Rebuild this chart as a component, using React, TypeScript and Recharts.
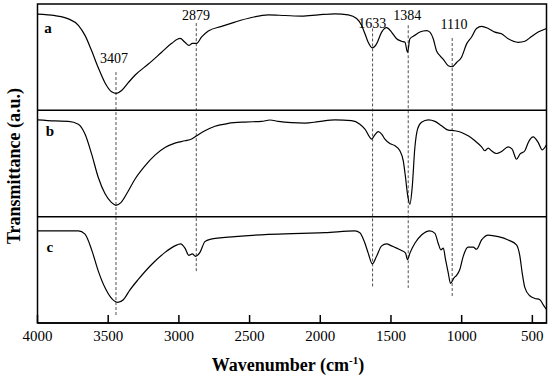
import React from 'react';
import { LineChart, Line, XAxis, YAxis, ReferenceLine, ReferenceArea, ReferenceDot } from 'recharts';

const FONT = '"Liberation Serif", "Times New Roman", serif';

// spectrum a (top panel): wavenumber (cm-1) and transmittance (% of panel)
const waveA = [4000, 3876, 3782, 3711, 3664, 3617, 3570, 3523, 3476, 3440, 3405, 3358, 3311, 3216, 3122, 3051, 2992, 2957, 2929, 2905, 2875, 2839, 2792, 2698, 2604, 2486, 2368, 2250, 2132, 2014, 1896, 1802, 1743, 1708, 1684, 1661, 1632, 1602, 1566, 1531, 1496, 1460, 1425, 1401, 1383, 1366, 1331, 1295, 1272, 1248, 1225, 1201, 1178, 1154, 1130, 1095, 1067, 1036, 1001, 965, 930, 895, 859, 812, 765, 718, 671, 600, 553, 506, 459, 400];
const transA = [90.5, 89, 86, 80, 70.5, 56, 40, 26, 17.5, 16, 18.7, 26, 33, 43.5, 54.6, 63, 67.6, 64, 61, 63, 63, 69, 74.6, 79, 83, 87.3, 89.8, 89.2, 88.6, 89.8, 90.8, 89.8, 86.3, 80, 72, 64, 58.7, 62.5, 73.6, 77.8, 73.6, 67.3, 65, 64, 54.6, 67.3, 70.5, 73.6, 74.6, 75, 73.6, 67.3, 56, 51.4, 48, 42, 41, 45, 50, 62.5, 69, 77, 79, 77, 73.6, 72, 67.3, 64, 65, 69.5, 73.6, 77];

// spectrum b (middle panel)
const waveB = [4000, 3876, 3782, 3711, 3664, 3617, 3570, 3523, 3476, 3445, 3410, 3358, 3311, 3240, 3169, 3098, 3028, 2957, 2910, 2875, 2816, 2745, 2651, 2533, 2415, 2356, 2297, 2203, 2109, 2014, 1896, 1779, 1720, 1684, 1637, 1614, 1590, 1566, 1543, 1508, 1472, 1437, 1413, 1397, 1383, 1366, 1350, 1331, 1312, 1284, 1236, 1189, 1142, 1095, 1048, 1001, 954, 906, 859, 836, 812, 789, 753, 718, 671, 643, 612, 588, 553, 529, 494, 459, 430, 400];
const transB = [91, 90, 89.6, 87, 77.7, 58.8, 36.8, 21.7, 13.2, 10.7, 13.2, 24.2, 35.2, 47.8, 57.9, 65, 69.2, 71.4, 73, 76, 80.8, 85, 87.7, 89, 89.6, 90.9, 89.6, 88.4, 88, 89.3, 91, 90.3, 87, 82.4, 73, 77, 79.9, 77.7, 73, 68.9, 66.7, 62, 52.5, 36.8, 21, 11.6, 27.4, 65, 82.4, 88.7, 91, 89.6, 85.5, 81.4, 80.8, 79.2, 76, 71.4, 65.7, 62, 64.5, 62, 59.4, 61.3, 65.7, 63.5, 54, 58.8, 62, 69.8, 75, 69.8, 62.9, 67.6];

// spectrum c (bottom panel)
const waveC = [4000, 3711, 3664, 3617, 3570, 3523, 3476, 3433, 3393, 3346, 3287, 3193, 3098, 3028, 2988, 2957, 2929, 2905, 2882, 2851, 2816, 2780, 2604, 2368, 2132, 1967, 1755, 1720, 1684, 1661, 1632, 1602, 1566, 1531, 1496, 1460, 1425, 1397, 1383, 1366, 1331, 1284, 1225, 1189, 1166, 1147, 1130, 1114, 1095, 1079, 1053, 1036, 1013, 989, 954, 918, 895, 859, 812, 741, 671, 612, 588, 572, 553, 518, 482, 447, 423, 400];
const transC = [86.7, 86.7, 83.6, 68.8, 48.8, 33.3, 23.1, 19.4, 21.9, 31.2, 41, 55, 66.4, 72.5, 74.4, 70.4, 63.6, 65.1, 62.7, 66.4, 76.5, 78.7, 81.2, 83.3, 84.3, 84.9, 86.7, 84.9, 75, 65.7, 55.6, 62.7, 72.5, 74.4, 72.5, 70.4, 68.2, 65.7, 59.6, 65.7, 75, 82.7, 86.7, 84.3, 75, 68.8, 70.4, 59.6, 47.2, 37.3, 42.6, 44.8, 50.3, 62.7, 71.3, 71.3, 69.4, 78.1, 82.7, 81.2, 78.1, 73.5, 62.7, 47.2, 33.3, 25.6, 23.1, 21.9, 17, 12.7];

const xTicks = [4000, 3500, 3000, 2500, 2000, 1500, 1000, 500];

// marked bands: label text and the wavenumber where the dashed guide is drawn
const peakNames = ['3407', '2879', '1633', '1384', '1110'];
const peakLines = [3445, 2877, 1630, 1378, 1067];

const panelNames = ['a', 'b', 'c'];

// layout helpers (y units: each panel spans 100, c=0..100, b=100..200, a=200..300)
const PANEL_OFFSET = [200, 100, 0];
const GUIDE_TOP = [236, 282, 277, 280, 268];
const GUIDE_BOTTOM = [6, 47, 33, 33, 25];
const PEAK_LABEL_POS = [
  { x: 3459, y: 249 },
  { x: 2879, y: 290 },
  { x: 1632, y: 282 },
  { x: 1385, y: 290 },
  { x: 1054, y: 281 },
];
const PANEL_LABEL_POS = [
  { x: 3926, y: 278 },
  { x: 3912, y: 181 },
  { x: 3912, y: 72 },
];

const toSeries = (w: number[], t: number[], off: number) =>
  w.map((x, i) => ({ w: x, y: t[i] + off }));

const seriesA = toSeries(waveA, transA, PANEL_OFFSET[0]);
const seriesB = toSeries(waveB, transB, PANEL_OFFSET[1]);
const seriesC = toSeries(waveC, transC, PANEL_OFFSET[2]);

export default function App() {
  return (
    <div style={{ position: 'absolute', left: 0, top: 0, width: 550, height: 385, fontFamily: FONT, background: '#fff' }}>
      <LineChart width={550} height={385} margin={{ top: 4, right: 3.5, bottom: 22, left: 37.5 }}>
        <XAxis
          dataKey="w"
          type="number"
          domain={[400, 4000]}
          reversed
          ticks={xTicks}
          allowDataOverflow
          height={40}
          tickSize={-8}
          tickMargin={15}
          axisLine={{ stroke: '#000', strokeWidth: 1.5 }}
          tickLine={{ stroke: '#000', strokeWidth: 1.5 }}
          tick={{ fill: '#000', fontSize: 15, fontFamily: FONT }}
        />
        <YAxis type="number" domain={[0, 300]} hide allowDataOverflow />
        <ReferenceArea x1={4000} x2={400} y1={0} y2={300} fill="none" fillOpacity={0} stroke="#000" strokeWidth={1.5} />
        <ReferenceLine y={100} stroke="#000" strokeWidth={1.5} />
        <ReferenceLine y={200} stroke="#000" strokeWidth={1.5} />
        {peakLines.map((x, i) => (
          <ReferenceLine
            key={'g' + i}
            segment={[{ x, y: GUIDE_TOP[i] }, { x, y: GUIDE_BOTTOM[i] }]}
            stroke="#222"
            strokeWidth={0.8}
            strokeDasharray="3 2"
          />
        ))}
        <Line data={seriesA} dataKey="y" type="monotone" stroke="#000" strokeWidth={1.2} dot={false} isAnimationActive={false} />
        <Line data={seriesB} dataKey="y" type="monotone" stroke="#000" strokeWidth={1.2} dot={false} isAnimationActive={false} />
        <Line data={seriesC} dataKey="y" type="monotone" stroke="#000" strokeWidth={1.2} dot={false} isAnimationActive={false} />
        {peakNames.map((name, i) => (
          <ReferenceDot
            key={'p' + i}
            x={PEAK_LABEL_POS[i].x}
            y={PEAK_LABEL_POS[i].y}
            r={0}
            fill="none"
            stroke="none"
            label={{ value: name, position: 'center', fill: '#000', fontSize: 14, fontFamily: FONT }}
          />
        ))}
        {panelNames.map((name, i) => (
          <ReferenceDot
            key={'n' + i}
            x={PANEL_LABEL_POS[i].x}
            y={PANEL_LABEL_POS[i].y}
            r={0}
            fill="none"
            stroke="none"
            label={{ value: name, position: 'center', fill: '#000', fontSize: 15, fontWeight: 'bold', fontFamily: FONT }}
          />
        ))}
      </LineChart>
      <div style={{ position: 'absolute', left: 0, top: 354, width: 576, textAlign: 'center', fontSize: 18, fontWeight: 'bold', whiteSpace: 'nowrap' }}>
        Wavenumber (cm<sup style={{ fontSize: 11 }}>-1</sup>)
      </div>
      <div
        style={{
          position: 'absolute',
          left: 14,
          top: 166,
          transform: 'translate(-50%, -50%) rotate(-90deg)',
          fontSize: 18,
          fontWeight: 'bold',
          whiteSpace: 'nowrap',
        }}
      >
        Transmittance (a.u.)
      </div>
    </div>
  );
}
